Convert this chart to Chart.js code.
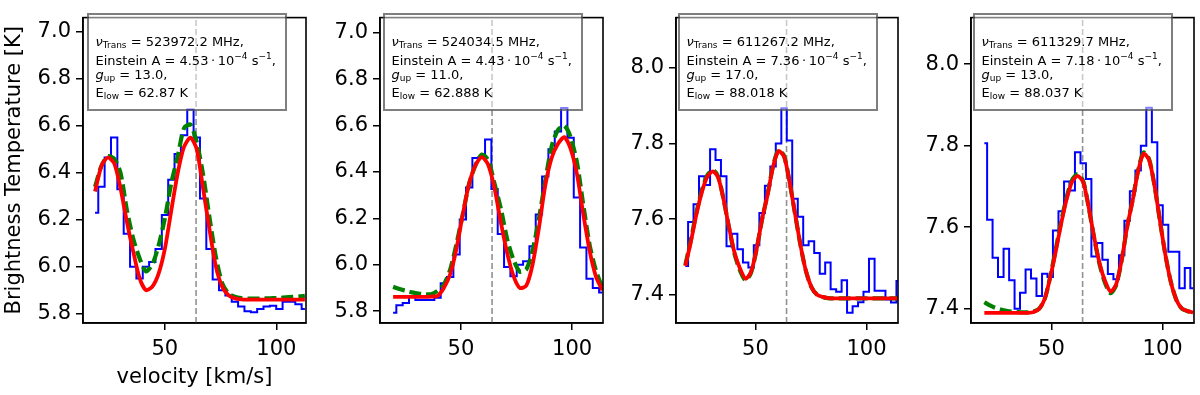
<!DOCTYPE html>
<html>
<head>
<meta charset="utf-8">
<script src="https://cdn.jsdelivr.net/npm/chart.js@4.4.0/dist/chart.umd.min.js"></script>
<style>
  body { margin: 0; background: #fff; width: 1200px; height: 395px; position: relative; overflow: hidden; font-family: "DejaVu Sans", sans-serif; }
  canvas { position: absolute; top: 0; }
  .info { position: absolute; top: 13px; width: 200px; height: 98px; box-sizing: border-box;
          border: 2px solid rgba(0,0,0,0.5); background: rgba(255,255,255,0.5); font-size: 13px; color: #000; }
  .info div { position: absolute; left: 6.5px; white-space: nowrap; line-height: 16px; }
  .info sub { font-size: 9px; line-height: 0; vertical-align: -2px; }
  .info sup { font-size: 9px; line-height: 0; vertical-align: 6px; }
  .info i { font-style: oblique; }
</style>
</head>
<body>
<canvas id="c0" width="308" height="395" style="left:0px"></canvas>
<canvas id="c1" width="305" height="395" style="left:300px"></canvas>
<canvas id="c2" width="294" height="395" style="left:606px"></canvas>
<canvas id="c3" width="300" height="395" style="left:900px"></canvas>

<script>
// ---- data ----
const xTicks = [50, 100];
const yTicksLow = [5.8, 6.0, 6.2, 6.4, 6.6, 6.8, 7.0];
const yTicksHigh = [7.4, 7.6, 7.8, 8.0];
const vSys = 64;

// panel 1
const vel1 = [18.7, 21.6, 24.4, 27.3, 30.1, 33.0, 35.8, 38.7, 41.5, 44.4, 47.2, 50.1, 52.9, 55.8, 58.6, 61.5, 64.3, 67.2, 70.0, 72.9, 75.7, 78.6, 81.4, 84.3, 87.1, 90.0, 92.8, 95.7, 98.5, 101.4, 104.2, 107.1, 109.9, 112.8];
const obs1 = [6.23, 6.34, 6.465, 6.55, 6.33, 6.14, 6.0, 5.95, 6.0, 6.02, 6.075, 6.22, 6.37, 6.48, 6.56, 6.67, 6.55, 6.29, 6.075, 5.945, 5.90, 5.877, 5.85, 5.83, 5.81, 5.806, 5.82, 5.83, 5.833, 5.82, 5.85, 5.85, 5.84, 5.82];
const red1 = [6.32, 6.43, 6.465, 6.44, 6.335, 6.19, 6.065, 5.95, 5.90, 5.915, 5.97, 6.08, 6.24, 6.40, 6.51, 6.55, 6.50, 6.33, 6.16, 6.0, 5.915, 5.878, 5.865, 5.861, 5.86, 5.86, 5.86, 5.86, 5.86, 5.86, 5.86, 5.86, 5.86, 5.86];
const green1 = [6.34, 6.43, 6.47, 6.46, 6.40, 6.24, 6.12, 6.035, 5.98, 6.01, 6.09, 6.21, 6.356, 6.47, 6.59, 6.605, 6.53, 6.39, 6.21, 6.04, 5.93, 5.885, 5.872, 5.866, 5.864, 5.864, 5.864, 5.865, 5.866, 5.867, 5.869, 5.871, 5.873, 5.876];

// panel 2
const vel2 = [19.5, 22.4, 25.2, 28.1, 30.9, 33.8, 36.6, 39.5, 42.3, 45.2, 48.0, 50.9, 53.7, 56.6, 59.4, 62.3, 65.1, 68.0, 70.8, 73.7, 76.5, 79.4, 82.2, 85.1, 87.9, 90.8, 93.6, 96.5, 99.3, 102.2, 105.0, 107.9, 110.7, 113.6];
const obs2 = [5.793, 5.826, 5.835, 5.865, 5.848, 5.848, 5.848, 5.858, 5.92, 5.947, 6.044, 6.195, 6.333, 6.46, 6.464, 6.54, 6.326, 6.133, 5.99, 5.95, 6.0, 6.015, 6.08, 6.216, 6.38, 6.498, 6.574, 6.675, 6.547, 6.29, 6.074, 5.94, 5.90, 5.88];
const red2 = [5.862, 5.862, 5.862, 5.862, 5.862, 5.862, 5.863, 5.866, 5.90, 5.96, 6.07, 6.22, 6.35, 6.43, 6.464, 6.43, 6.33, 6.18, 6.05, 5.95, 5.90, 5.91, 6.00, 6.16, 6.34, 6.46, 6.52, 6.55, 6.50, 6.39, 6.22, 6.06, 5.95, 5.89];
const green2 = [5.905, 5.895, 5.888, 5.881, 5.876, 5.873, 5.873, 5.888, 5.915, 5.98, 6.09, 6.22, 6.35, 6.43, 6.475, 6.45, 6.35, 6.24, 6.11, 6.02, 5.97, 5.98, 6.06, 6.20, 6.36, 6.51, 6.58, 6.60, 6.55, 6.44, 6.26, 6.085, 5.975, 5.90];

// panel 3
const vel3 = [18.4, 20.9, 23.3, 25.8, 28.3, 30.8, 33.2, 35.7, 38.2, 40.6, 43.1, 45.6, 48.0, 50.5, 53.0, 55.5, 57.9, 60.4, 62.9, 65.3, 67.8, 70.3, 72.7, 75.2, 77.7, 80.2, 82.6, 85.1, 87.6, 90.0, 92.5, 95.0, 97.4, 99.9, 102.4, 104.9, 107.3, 109.8, 112.3, 114.7];
const obs3 = [7.476, 7.592, 7.639, 7.713, 7.69, 7.785, 7.756, 7.713, 7.528, 7.561, 7.52, 7.485, 7.472, 7.531, 7.616, 7.688, 7.739, 7.80, 7.893, 7.808, 7.654, 7.606, 7.531, 7.541, 7.51, 7.455, 7.485, 7.414, 7.408, 7.438, 7.352, 7.369, 7.38, 7.408, 7.495, 7.41, 7.41, 7.387, 7.379, 7.436];
const red3 = [7.476, 7.54, 7.61, 7.67, 7.712, 7.726, 7.71, 7.65, 7.575, 7.51, 7.468, 7.442, 7.46, 7.52, 7.60, 7.665, 7.738, 7.78, 7.765, 7.70, 7.615, 7.53, 7.463, 7.42, 7.40, 7.394, 7.391, 7.39, 7.39, 7.39, 7.39, 7.39, 7.39, 7.39, 7.39, 7.39, 7.39, 7.39, 7.39, 7.39];
const green3 = [7.478, 7.545, 7.615, 7.675, 7.716, 7.73, 7.712, 7.65, 7.573, 7.507, 7.463, 7.438, 7.458, 7.52, 7.60, 7.667, 7.74, 7.783, 7.767, 7.70, 7.615, 7.53, 7.463, 7.42, 7.40, 7.394, 7.391, 7.39, 7.39, 7.39, 7.39, 7.39, 7.39, 7.39, 7.39, 7.39, 7.39, 7.39, 7.39, 7.39];

// panel 4
const vel4 = [19.8, 22.3, 24.7, 27.2, 29.7, 32.2, 34.6, 37.1, 39.6, 42.0, 44.5, 47.0, 49.4, 51.9, 54.4, 56.9, 59.3, 61.8, 64.3, 66.7, 69.2, 71.7, 74.1, 76.6, 79.1, 81.6, 84.0, 86.5, 89.0, 91.4, 93.9, 96.4, 98.8, 101.3, 103.8, 106.3, 108.7, 111.2, 113.7];
const obs4 = [7.806, 7.618, 7.525, 7.478, 7.547, 7.47, 7.40, 7.439, 7.496, 7.474, 7.431, 7.486, 7.478, 7.592, 7.639, 7.712, 7.69, 7.784, 7.757, 7.718, 7.528, 7.561, 7.52, 7.485, 7.472, 7.531, 7.616, 7.688, 7.739, 7.80, 7.893, 7.808, 7.654, 7.606, 7.54, 7.54, 7.45, 7.50, 7.45];
const red4 = [7.39, 7.39, 7.39, 7.39, 7.39, 7.39, 7.39, 7.39, 7.39, 7.392, 7.40, 7.425, 7.476, 7.54, 7.61, 7.67, 7.712, 7.726, 7.71, 7.65, 7.575, 7.51, 7.468, 7.442, 7.46, 7.52, 7.60, 7.665, 7.738, 7.78, 7.765, 7.70, 7.615, 7.53, 7.463, 7.42, 7.40, 7.394, 7.391];
const green4 = [7.416, 7.408, 7.402, 7.398, 7.395, 7.393, 7.392, 7.391, 7.391, 7.393, 7.40, 7.425, 7.478, 7.545, 7.615, 7.675, 7.716, 7.73, 7.712, 7.65, 7.573, 7.507, 7.463, 7.438, 7.458, 7.52, 7.60, 7.667, 7.74, 7.783, 7.767, 7.70, 7.615, 7.53, 7.463, 7.42, 7.40, 7.394, 7.391];

// line parameters shown in the text boxes
const nuTrans = ['523972.2', '524034.5', '611267.2', '611329.7'];
const einsteinA = ['4.53', '4.43', '7.36', '7.18'];
const gUp = ['13.0', '11.0', '17.0', '13.0'];
const eLow = ['62.87', '62.888', '88.018', '88.037'];

// axis limits
const xLims = [[13.3, 113.3], [13.6, 113.9], [14.2, 114.2], [13.8, 114.1]];
const yLims = [[5.76, 7.061], [5.749, 7.065], [7.325, 8.133], [7.365, 8.114]];

// ---- layout (pixels) ----
const layout = [
  { axisW: 83, padR: 2, boxLeft: 87 },
  { axisW: 80, padR: 2, boxLeft: 383 },
  { axisW: 70, padR: 2, boxLeft: 678 },
  { axisW: 71, padR: 6, boxLeft: 973 }
];

const series = [
  [vel1, obs1, red1, green1],
  [vel2, obs2, red2, green2],
  [vel3, obs3, red3, green3],
  [vel4, obs4, red4, green4]
];

Chart.defaults.font.family = "'DejaVu Sans', sans-serif";
Chart.defaults.color = '#000';

const frame = {
  id: 'frame',
  afterDraw(chart) {
    const a = chart.chartArea, c = chart.ctx;
    c.save();
    c.strokeStyle = '#000';
    c.lineWidth = 1.6;
    c.strokeRect(a.left, a.top, a.right - a.left, a.bottom - a.top);
    c.restore();
  }
};

function pts(xs, ys) {
  return xs.map((x, i) => ({ x: x, y: ys[i] }));
}

series.forEach((s, i) => {
  const [vel, obs, red, green] = s;
  const L = layout[i];
  const yTicks = i < 2 ? yTicksLow : yTicksHigh;
  const tickFont = { size: 21 };

  new Chart(document.getElementById('c' + i), {
    type: 'line',
    data: {
      datasets: [
        { data: pts(vel, red), borderColor: '#ff0000', borderWidth: 3.8, pointRadius: 0, tension: 0.25 },
        { data: pts(vel, green), borderColor: '#008000', borderWidth: 4.2, borderDash: [12, 5], pointRadius: 0, tension: 0.25 },
        { data: pts(vel, obs), borderColor: '#0000ff', borderWidth: 2, pointRadius: 0, stepped: 'middle' },
        { data: [{ x: vSys, y: yLims[i][0] }, { x: vSys, y: yLims[i][1] }], borderColor: '#929292', borderWidth: 1.6, borderDash: [6, 3], pointRadius: 0 }
      ]
    },
    options: {
      responsive: false,
      animation: false,
      layout: { padding: { top: 5, right: L.padR, left: 0, bottom: 0 } },
      plugins: { legend: { display: false }, tooltip: { enabled: false } },
      scales: {
        x: {
          type: 'linear',
          min: xLims[i][0], max: xLims[i][1],
          afterFit: sc => { sc.height = 72; },
          afterBuildTicks: sc => { sc.ticks = xTicks.map(v => ({ value: v })); },
          grid: { drawOnChartArea: false, drawTicks: true, tickLength: 7, color: '#000', lineWidth: 1.5 },
          border: { display: true, color: '#000', width: 1.6 },
          ticks: { font: tickFont, color: '#000', padding: 7, maxRotation: 0, autoSkip: false, callback: v => String(v) },
          title: { display: i === 0, text: 'velocity [km/s]', font: { size: 21 }, color: '#000', padding: { top: 4, bottom: 5 } }
        },
        y: {
          type: 'linear',
          min: yLims[i][0], max: yLims[i][1],
          afterFit: sc => { sc.width = L.axisW; },
          afterBuildTicks: sc => { sc.ticks = yTicks.map(v => ({ value: v })); },
          grid: { drawOnChartArea: false, drawTicks: true, tickLength: 7, color: '#000', lineWidth: 1.5 },
          border: { display: true, color: '#000', width: 1.6 },
          ticks: { font: tickFont, color: '#000', padding: 5, autoSkip: false, callback: v => v.toFixed(1) },
          title: { display: i === 0, text: 'Brightness Temperature [K]', font: { size: 21 }, color: '#000', padding: { top: 2, bottom: 4 } }
        }
      }
    },
    plugins: [frame]
  });

  // text box with the line parameters
  const box = document.createElement('div');
  box.className = 'info';
  box.style.left = L.boxLeft + 'px';
  box.innerHTML =
    '<div style="top:19px"><i>\u03bd</i><sub>Trans</sub> = ' + nuTrans[i] + ' MHz,</div>' +
    '<div style="top:38px">Einstein A = ' + einsteinA[i] + '\u2009\u00b7\u200910<sup>\u22124</sup> s<sup>\u22121</sup>,</div>' +
    '<div style="top:52px"><i>g</i><sub>up</sub> = ' + gUp[i] + ',</div>' +
    '<div style="top:70px">E<sub>low</sub> = ' + eLow[i] + ' K</div>';
  document.body.appendChild(box);
});
</script>
</body>
</html>
